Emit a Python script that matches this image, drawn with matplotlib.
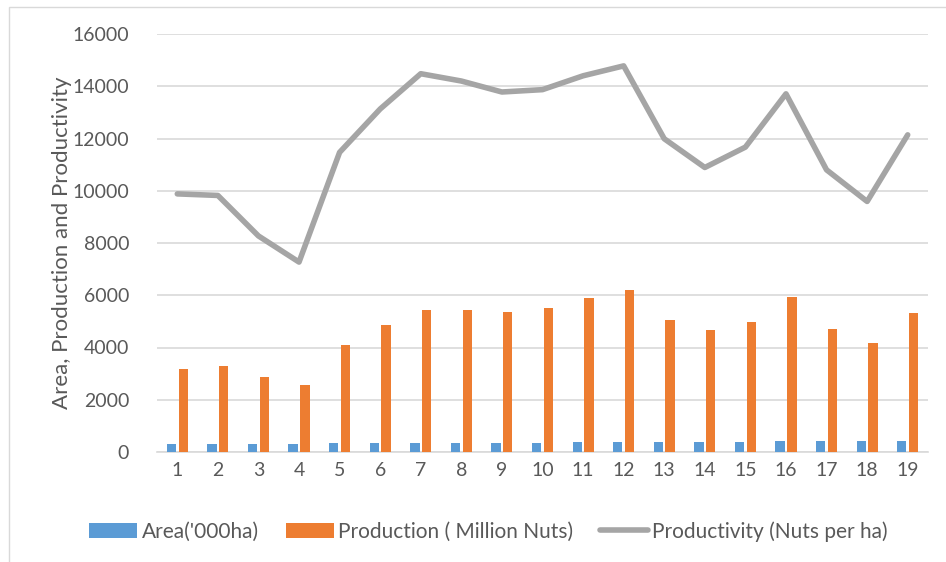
import matplotlib.pyplot as plt
import numpy as np
from matplotlib.patches import Rectangle

years = list(range(1, 20))
area = [300, 310, 320, 320, 330, 340, 340, 350, 350, 360, 370, 380, 390, 390, 400, 410, 410, 410, 420]
production = [3180, 3280, 2860, 2555, 4090, 4850, 5430, 5440, 5350, 5530,
              5890, 6195, 5070, 4660, 4980, 5950, 4700, 4175, 5310]
productivity = [9880, 9820, 8270, 7270, 11470, 13130, 14480, 14200, 13780, 13870,
                14400, 14780, 11990, 10890, 11670, 13710, 10800, 9590, 12140]

plt.rcParams['font.family'] = ['Lato', 'DejaVu Sans']
txt = '#595959'

fig = plt.figure(figsize=(9.46, 5.62), dpi=100)
ax = fig.add_axes([157 / 946, 1 - 452 / 562, 771 / 946, 418 / 562])

# chart border like the spreadsheet frame
fig.patches.append(Rectangle((9 / 946, -0.1), 1.2, 1 - 7 / 562 + 0.1, transform=fig.transFigure,
                             fill=False, edgecolor='#d9d9d9', linewidth=1))

x = np.array(years)
w = 0.23
b1 = ax.bar(x - 0.145, area, width=w, color='#5b9bd5', label="Area('000ha)", zorder=3)
b2 = ax.bar(x + 0.145, production, width=w, color='#ed7d31', label='Production ( Million Nuts)', zorder=3)
l1, = ax.plot(x, productivity, color='#a5a5a5', linewidth=4, solid_capstyle='round',
              label='Productivity (Nuts per ha)', zorder=4)

ax.set_xlim(0.5, 19.5)
ax.set_ylim(0, 16000)
ax.set_yticks(range(0, 16001, 2000))
ax.set_xticks(years)
ax.yaxis.grid(True, color='#d9d9d9', linewidth=1.2, zorder=0)
ax.set_axisbelow(True)
for s in ['top', 'right', 'left']:
    ax.spines[s].set_visible(False)
ax.spines['bottom'].set_color('#d9d9d9')
ax.spines['bottom'].set_linewidth(1.2)
ax.tick_params(axis='both', length=0, labelsize=14, labelcolor=txt)
ax.tick_params(axis='y', pad=20)
ax.tick_params(axis='x', pad=7)
ax.set_ylabel('Area, Production and Productivity', fontsize=16, color=txt)
ax.yaxis.set_label_coords(-85 / 771, 0.5)

ax.legend([b1, b2, l1], [b1.get_label(), b2.get_label(), l1.get_label()],
          loc='center', bbox_to_anchor=(0.43, -0.19), ncol=3, frameon=False,
          fontsize=15, labelcolor=txt, handlelength=2.3, handleheight=0.8,
          handletextpad=0.2, columnspacing=1.3)

fig.savefig('out.png', dpi=100)
